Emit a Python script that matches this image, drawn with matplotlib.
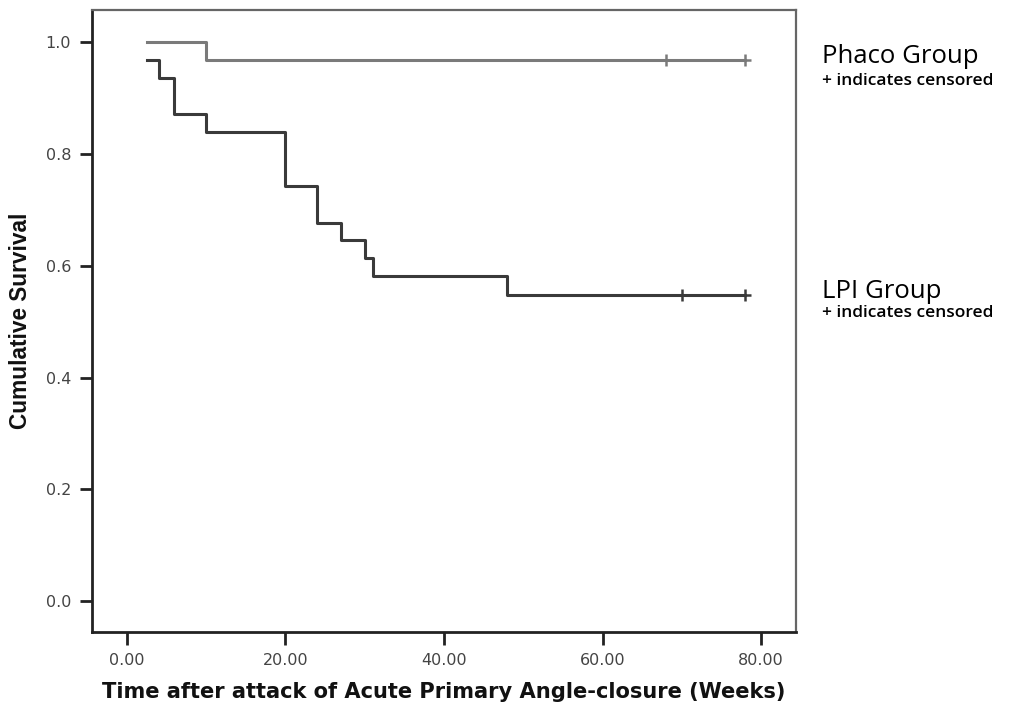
import matplotlib
matplotlib.use("Agg")
import matplotlib.pyplot as plt

# Kaplan-Meier step data (weeks, cumulative survival)
phaco_time = [2.5, 10, 78]
phaco_surv = [1.0, 0.968, 0.968]
phaco_censored = [68, 78]

lpi_time = [2.5, 4, 6, 10, 20, 24, 27, 30, 31, 48, 78]
lpi_surv = [0.968, 0.935, 0.871, 0.839, 0.742, 0.677, 0.645, 0.613, 0.581, 0.548, 0.548]
lpi_censored = [70, 78]

x_ticks = [0, 20, 40, 60, 80]
x_ticklabels = ["0.00", "20.00", "40.00", "60.00", "80.00"]
y_ticks = [0.0, 0.2, 0.4, 0.6, 0.8, 1.0]
y_ticklabels = ["0.0", "0.2", "0.4", "0.6", "0.8", "1.0"]

phaco_color = "#7a7a7a"
lpi_color = "#3a3a3a"

fig = plt.figure(figsize=(10.15, 7.05), dpi=100)
ax = fig.add_axes([0.0906, 0.1035, 0.6936, 0.8823])

ax.step(phaco_time, phaco_surv, where="post", color=phaco_color, lw=2.2)
ax.plot(phaco_censored, [phaco_surv[-1]] * len(phaco_censored), ls="none",
        marker="+", ms=9, mew=1.8, color=phaco_color)

ax.step(lpi_time, lpi_surv, where="post", color=lpi_color, lw=2.2)
ax.plot(lpi_censored, [lpi_surv[-1]] * len(lpi_censored), ls="none",
        marker="+", ms=9, mew=1.8, color=lpi_color)

ax.set_xlim(-4.4, 84.4)
ax.set_ylim(-0.055, 1.057)
ax.set_xticks(x_ticks)
ax.set_xticklabels(x_ticklabels)
ax.set_yticks(y_ticks)
ax.set_yticklabels(y_ticklabels)

for side in ["left", "bottom"]:
    ax.spines[side].set_color("#222222")
    ax.spines[side].set_linewidth(2)
for side in ["top", "right"]:
    ax.spines[side].set_color("#666666")
    ax.spines[side].set_linewidth(1.6)

ax.tick_params(axis="both", direction="out", length=9, width=2, color="#222222",
               labelsize=11.5, labelcolor="#444444", pad=6)

ax.set_xlabel("Time after attack of Acute Primary Angle-closure (Weeks)",
              fontsize=15.1, fontweight="bold", family="DejaVu Sans",
              color="#111111", labelpad=10)
ax.set_ylabel("Cumulative Survival", fontsize=16.3, fontweight="bold",
              family="Liberation Sans", color="#111111", labelpad=10)

# group labels to the right of the plot
lab = ("axes fraction", "data")
ax.annotate("Phaco Group", xy=(1.037, 0.962), xycoords=lab, fontsize=18.5,
            family="Open Sans", va="baseline", ha="left", annotation_clip=False)
ax.annotate("+ indicates censored", xy=(1.037, 0.93), xycoords=lab, fontsize=12.5,
            family="Open Sans", fontweight="semibold", va="center", ha="left",
            annotation_clip=False)
ax.annotate("LPI Group", xy=(1.037, 0.542), xycoords=lab, fontsize=18.5,
            family="Open Sans", va="baseline", ha="left", annotation_clip=False)
ax.annotate("+ indicates censored", xy=(1.037, 0.516), xycoords=lab, fontsize=12.5,
            family="Open Sans", fontweight="semibold", va="center", ha="left",
            annotation_clip=False)

fig.savefig("out.png", dpi=100)
